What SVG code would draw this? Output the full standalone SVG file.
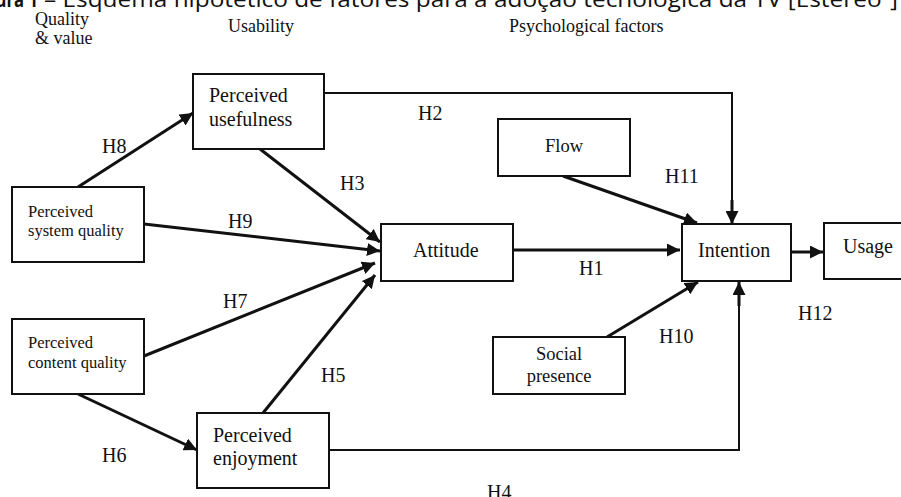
<svg xmlns="http://www.w3.org/2000/svg" width="901" height="497" viewBox="0 0 901 497">
<style>
.box{fill:#fff;stroke:#111;stroke-width:2}
.t{font-family:"Liberation Serif","Times New Roman",serif;fill:#111}
.big{font-size:20px}
.mid{font-size:18.5px}
.sm{font-size:16.5px}
.hd{font-size:18px}
.lbl{font-size:20px}
.arr{stroke:#111;stroke-width:3;fill:none;marker-end:url(#ah)}
.thin{stroke:#111;stroke-width:2;fill:none}
.cap{font-family:"Open Sans","Noto Sans",sans-serif;font-size:21px;fill:#111}
</style>
<defs>
<marker id="ah" markerUnits="userSpaceOnUse" markerWidth="14" markerHeight="13" refX="13" refY="6.5" orient="auto">
<path d="M0,0 L13,6.5 L0,13 Z" fill="#111"/>
</marker>
</defs>
<rect width="901" height="497" fill="#fff"/>
<g id="caption">
<text class="cap" x="-28" y="7" font-weight="bold" textLength="66" lengthAdjust="spacingAndGlyphs">Figura 1</text>
<text class="cap" x="44" y="7" textLength="854" lengthAdjust="spacingAndGlyphs">– Esquema hipotético de fatores para a adoção tecnológica da TV [Estéreo³]</text>
</g>
<g id="headers">
<text class="t hd" x="35" y="25">Quality</text>
<text class="t hd" x="35" y="44">&amp; value</text>
<text class="t hd" x="228" y="32">Usability</text>
<text class="t hd" x="509" y="32">Psychological factors</text>
</g>
<g id="connectors">
<line class="arr" x1="78" y1="187" x2="193" y2="113"/>
<line class="arr" x1="144" y1="224" x2="380" y2="251"/>
<line class="arr" x1="260" y1="149" x2="380" y2="242"/>
<line class="arr" x1="144" y1="356" x2="375" y2="263"/>
<line class="arr" x1="263" y1="413" x2="375" y2="275"/>
<line class="arr" x1="78" y1="394" x2="197" y2="450"/>
<line class="arr" x1="513" y1="250" x2="680" y2="250"/>
<polyline class="thin" points="324,93 732,93 732,212"/>
<line class="arr" x1="732" y1="200" x2="732" y2="224"/>
<polyline class="thin" points="329,450 739,450 739,294"/>
<line class="arr" x1="739" y1="306" x2="739" y2="282"/>
<line class="arr" x1="563" y1="176" x2="697" y2="223"/>
<line class="arr" x1="607" y1="337" x2="698" y2="282"/>
<line class="arr" x1="791" y1="252" x2="823" y2="252"/>
<text class="t lbl" x="102" y="153">H8</text>
<text class="t lbl" x="228" y="228">H9</text>
<text class="t lbl" x="340" y="190">H3</text>
<text class="t lbl" x="223" y="308">H7</text>
<text class="t lbl" x="321" y="382">H5</text>
<text class="t lbl" x="102" y="462">H6</text>
<text class="t lbl" x="418" y="120">H2</text>
<text class="t lbl" x="665" y="183">H11</text>
<text class="t lbl" x="579" y="275">H1</text>
<text class="t lbl" x="659" y="343">H10</text>
<text class="t lbl" x="798" y="320">H12</text>
<text class="t lbl" x="487" y="499">H4</text>
</g>
<g id="perceived-usefulness">
<rect class="box" x="193" y="74" width="131" height="75"/>
<text class="t big" x="209" y="102">Perceived</text>
<text class="t big" x="209" y="126">usefulness</text>
</g>
<g id="perceived-system-quality">
<rect class="box" x="12" y="187" width="132" height="75"/>
<text class="t sm" x="28" y="217">Perceived</text>
<text class="t sm" x="28" y="236">system quality</text>
</g>
<g id="perceived-content-quality">
<rect class="box" x="12" y="319" width="132" height="75"/>
<text class="t sm" x="28" y="348">Perceived</text>
<text class="t sm" x="28" y="368">content quality</text>
</g>
<g id="perceived-enjoyment">
<rect class="box" x="197" y="413" width="132" height="75"/>
<text class="t big" x="213" y="442">Perceived</text>
<text class="t big" x="213" y="465">enjoyment</text>
</g>
<g id="attitude">
<rect class="box" x="381" y="224" width="132" height="57"/>
<text class="t big" x="413" y="257">Attitude</text>
</g>
<g id="flow">
<rect class="box" x="498" y="119" width="132" height="57"/>
<text class="t mid" x="564" y="152" text-anchor="middle">Flow</text>
</g>
<g id="social-presence">
<rect class="box" x="493" y="337" width="132" height="57"/>
<text class="t mid" x="559" y="360" text-anchor="middle">Social</text>
<text class="t mid" x="559" y="382" text-anchor="middle">presence</text>
</g>
<g id="intention">
<rect class="box" x="682" y="224" width="109" height="57"/>
<text class="t big" x="698" y="257">Intention</text>
</g>
<g id="usage">
<rect class="box" x="824" y="223" width="80" height="56"/>
<text class="t big" x="843" y="253">Usage</text>
</g>
</svg>
